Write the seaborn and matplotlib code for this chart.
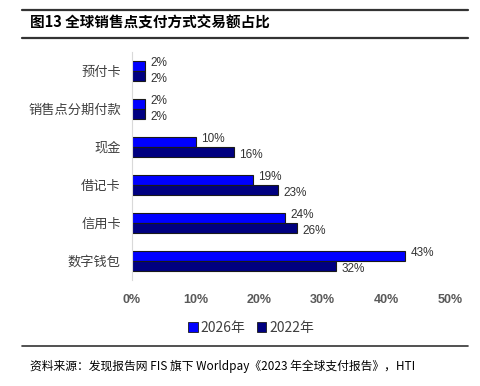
import pandas as pd
import matplotlib
matplotlib.use("Agg")
import matplotlib.pyplot as plt
import seaborn as sns
from matplotlib.lines import Line2D
from matplotlib.patches import Patch

categories = ["预付卡", "销售点分期付款", "现金", "借记卡", "信用卡", "数字钱包"]
share_2026 = [2, 2, 10, 19, 24, 43]
share_2022 = [2, 2, 16, 23, 26, 32]
years = ["2026年", "2022年"]
xticks = [0, 10, 20, 30, 40, 50]
xtick_labels = ["0%", "10%", "20%", "30%", "40%", "50%"]

df = pd.DataFrame({
    "方式": categories * 2,
    "年份": [years[0]] * len(categories) + [years[1]] * len(categories),
    "占比": share_2026 + share_2022,
})

sns.set_theme(style="white")
plt.rcParams["font.family"] = ["Noto Sans CJK SC", "DejaVu Sans"]

fig = plt.figure(figsize=(4.81, 3.86), dpi=100)
ax = fig.add_axes([0.2744, 0.2746, 0.6612, 0.5904])

colors = {"2026年": "#0000FF", "2022年": "#000080"}
sns.barplot(data=df, y="方式", x="占比", hue="年份", order=categories,
            hue_order=years, palette=colors, orient="h", width=0.52,
            saturation=1, edgecolor="#1a1a1a", linewidth=0.8, legend=False, ax=ax)

# labels of the two series pushed slightly apart so the small 2% pairs don't collide
for cont, dy in zip(ax.containers, [2.2, -2.2]):
    anns = ax.bar_label(cont, labels=[f"{v:.0f}%" for v in cont.datavalues],
                        padding=4, fontsize=8.5, color="#333333",
                        family=["Liberation Sans", "DejaVu Sans"])
    for a in anns:
        a.xyann = (4, dy)

ax.set_xlim(0, 50)
ax.set_xticks(xticks)
ax.set_xticklabels(xtick_labels, fontsize=9, fontweight="bold", color="#595959",
                   family=["Liberation Sans", "DejaVu Sans"])
ax.tick_params(axis="x", length=0, pad=10)
ax.tick_params(axis="y", length=0, pad=8, labelsize=9.5, labelcolor="#404040")
ax.set_xlabel("")
ax.set_ylabel("")
for side in ["top", "right", "bottom"]:
    ax.spines[side].set_visible(False)
ax.spines["left"].set_color("#d9d9d9")
ax.spines["left"].set_linewidth(0.8)

handles = [Patch(facecolor=colors[y], edgecolor="#1a1a1a", linewidth=0.6) for y in years]
fig.legend(handles, years, loc="center", bbox_to_anchor=(251 / 481, 1 - 328 / 386),
           ncol=2, frameon=False, fontsize=10, handlelength=0.7, handleheight=0.7,
           handletextpad=0.2, columnspacing=0.8, labelcolor="#404040")

# page decorations of the report
for yy, lw in [(10, 1.6), (38, 1.6), (346, 1.2)]:
    fig.add_artist(Line2D([22 / 481, 468 / 481], [1 - yy / 386] * 2,
                          color="#333333", linewidth=lw, transform=fig.transFigure))

fig.text(30 / 481, 1 - 23 / 386, "图13 全球销售点支付方式交易额占比", fontsize=10.5,
         fontweight="bold", color="black", va="center", ha="left")
fig.text(30 / 481, 1 - 366 / 386,
         "资料来源：发现报告网 FIS 旗下 Worldpay《2023 年全球支付报告》，HTI",
         fontsize=8.5, color="black", va="center", ha="left")

fig.savefig("out.png", dpi=100)
